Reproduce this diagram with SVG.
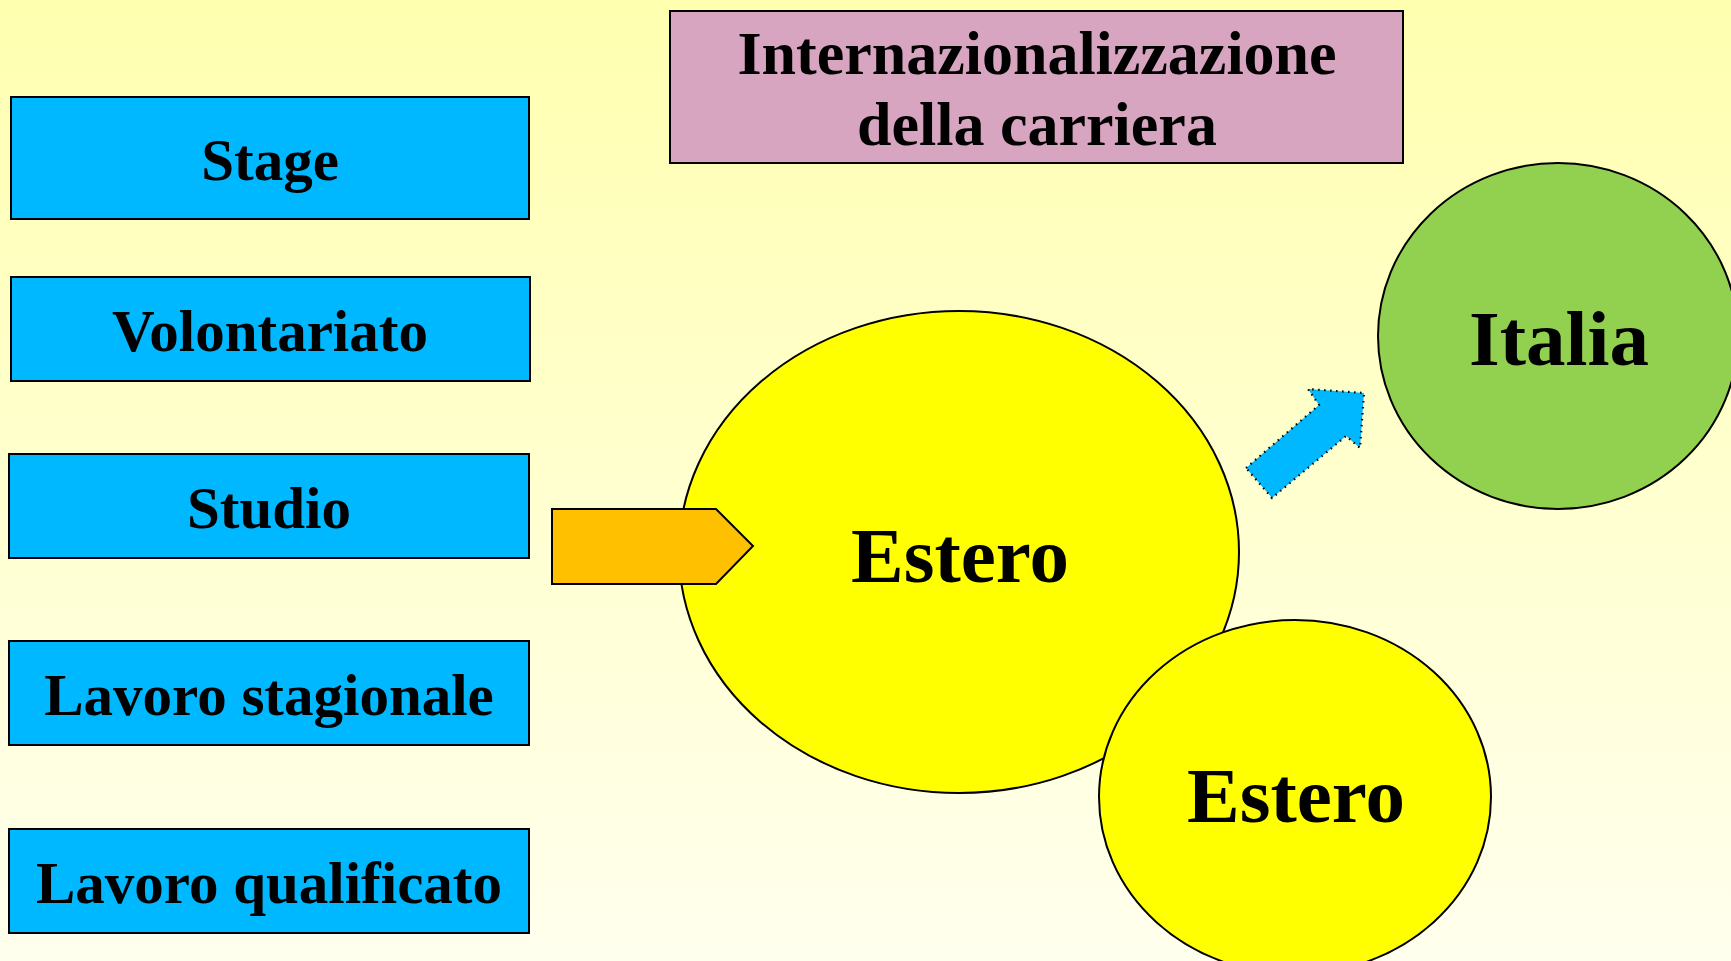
<svg xmlns="http://www.w3.org/2000/svg" width="1731" height="961" viewBox="0 0 1731 961">
<defs>
<linearGradient id="bg" x1="0" y1="0" x2="0" y2="1">
<stop offset="0" stop-color="#FFFFB0"/>
<stop offset="1" stop-color="#FFFFEE"/>
</linearGradient>
<style>
.box{fill:#00B8FF;stroke:#000;stroke-width:2}
.t{font-family:"Liberation Serif",serif;font-weight:bold;fill:#000;text-anchor:middle}
.s58{font-size:59px}
.s78{font-size:79px}
.ell{stroke:#000;stroke-width:2}
</style>
</defs>
<rect x="0" y="0" width="1731" height="961" fill="url(#bg)"/>
<g id="title">
<rect x="670" y="11" width="733" height="152" fill="#D8A5C0" stroke="#000" stroke-width="2"/>
<text class="t" x="1037" y="74" font-size="62">Internazionalizzazione</text>
<text class="t" x="1037" y="145" font-size="62">della carriera</text>
</g>
<g id="stage"><rect class="box" x="11" y="97" width="518" height="122"/><text class="t s58" x="270" y="180">Stage</text></g>
<g id="volontariato"><rect class="box" x="11" y="277" width="519" height="104"/><text class="t s58" x="270" y="351">Volontariato</text></g>
<g id="studio"><rect class="box" x="9" y="454" width="520" height="104"/><text class="t s58" x="269" y="528">Studio</text></g>
<g id="lavoro-stagionale"><rect class="box" x="9" y="641" width="520" height="104"/><text class="t s58" x="269" y="715">Lavoro stagionale</text></g>
<g id="lavoro-qualificato"><rect class="box" x="9" y="829" width="520" height="104"/><text class="t s58" x="269" y="903">Lavoro qualificato</text></g>
<g id="estero-big"><ellipse class="ell" cx="959" cy="552" rx="280" ry="241" fill="#FFFF00"/><text class="t s78" x="960" y="582">Estero</text></g>
<g id="connectors">
<polygon points="552,509 716,509 753,546 716,584 552,584" fill="#FFC000" stroke="#000" stroke-width="2"/>
<polygon points="1246,468 1319,405 1308,389 1364,393 1360,448 1346,436 1272,498" fill="#00B8FF" stroke="#000" stroke-width="2.2" stroke-dasharray="1.5 4.5"/>
</g>
<g id="estero-small"><ellipse class="ell" cx="1295" cy="797" rx="196" ry="177" fill="#FFFF00"/><text class="t s78" x="1296" y="822">Estero</text></g>
<g id="italia"><ellipse class="ell" cx="1558" cy="336" rx="180" ry="173" fill="#92D050"/><text class="t s78" x="1559" y="365">Italia</text></g>
</svg>
